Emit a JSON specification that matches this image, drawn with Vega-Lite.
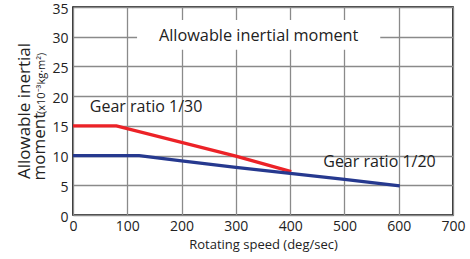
{
  "$schema": "https://vega.github.io/schema/vega-lite/v6.json",
  "width": 380,
  "height": 208,
  "autosize": {"type": "none"},
  "padding": {"left": 73, "top": 7, "right": 17, "bottom": 44},
  "background": "white",
  "config": {
    "font": "Open Sans",
    "view": {"stroke": "black", "strokeWidth": 1.6},
    "axis": {
      "grid": true,
      "gridColor": "#8a8a8a",
      "gridWidth": 1.3,
      "domain": false,
      "ticks": false,
      "labelColor": "#222",
      "labelFontSize": 14,
      "labelOverlap": false,
      "labelFlush": false,
      "titleFontWeight": "normal",
      "titleColor": "#222"
    },
    "axisX": {"labelPadding": 4, "titleFontSize": 13, "titlePadding": 5},
    "axisY": {"labelPadding": 5, "labelOffset": 2}
  },
  "datasets": {
    "curves": [
      {"speed": 0, "moment": 15, "gear": "1/30"},
      {"speed": 80, "moment": 15, "gear": "1/30"},
      {"speed": 300, "moment": 9.9, "gear": "1/30"},
      {"speed": 402, "moment": 7.3, "gear": "1/30"},
      {"speed": 0, "moment": 10, "gear": "1/20"},
      {"speed": 122, "moment": 10, "gear": "1/20"},
      {"speed": 200, "moment": 9.1, "gear": "1/20"},
      {"speed": 300, "moment": 8.0, "gear": "1/20"},
      {"speed": 400, "moment": 7.0, "gear": "1/20"},
      {"speed": 500, "moment": 6.0, "gear": "1/20"},
      {"speed": 602, "moment": 4.9, "gear": "1/20"}
    ],
    "one": [{}]
  },
  "layer": [
    {
      "data": {"name": "curves"},
      "mark": {"type": "line", "strokeWidth": 3.2},
      "encoding": {
        "x": {
          "field": "speed",
          "type": "quantitative",
          "scale": {"domain": [0, 700], "nice": false},
          "axis": {"values": [0, 100, 200, 300, 400, 500, 600, 700], "title": "Rotating speed (deg/sec)"}
        },
        "y": {
          "field": "moment",
          "type": "quantitative",
          "scale": {"domain": [0, 35], "nice": false},
          "axis": {"values": [0, 5, 10, 15, 20, 25, 30, 35], "title": null}
        },
        "color": {
          "field": "gear",
          "type": "nominal",
          "scale": {"domain": ["1/30", "1/20"], "range": ["#ec2227", "#26398f"]},
          "legend": null
        },
        "detail": {"field": "gear"}
      }
    },
    {
      "data": {"name": "one"},
      "mark": {"type": "rect", "color": "white"},
      "encoding": {
        "x": {"datum": 118, "type": "quantitative", "axis": {"values": [0, 100, 200, 300, 400, 500, 600, 700], "title": "Rotating speed (deg/sec)"}},
        "x2": {"datum": 566},
        "y": {"datum": 27.8, "type": "quantitative", "axis": {"values": [0, 5, 10, 15, 20, 25, 30, 35], "title": null}},
        "y2": {"datum": 32.8}
      }
    },
    {
      "data": {"name": "one"},
      "mark": {"type": "text", "fontSize": 16.3, "align": "center", "baseline": "alphabetic", "color": "#222"},
      "encoding": {
        "x": {"datum": 342, "type": "quantitative", "axis": {"values": [0, 100, 200, 300, 400, 500, 600, 700], "title": "Rotating speed (deg/sec)"}},
        "y": {"datum": 29.2, "type": "quantitative", "axis": {"values": [0, 5, 10, 15, 20, 25, 30, 35], "title": null}},
        "text": {"value": "Allowable inertial moment"}
      }
    },
    {
      "data": {"name": "one"},
      "mark": {"type": "text", "fontSize": 16, "align": "left", "baseline": "alphabetic", "color": "#222"},
      "encoding": {
        "x": {"datum": 31, "type": "quantitative", "axis": {"values": [0, 100, 200, 300, 400, 500, 600, 700], "title": "Rotating speed (deg/sec)"}},
        "y": {"datum": 17.4, "type": "quantitative", "axis": {"values": [0, 5, 10, 15, 20, 25, 30, 35], "title": null}},
        "text": {"value": "Gear ratio 1/30"}
      }
    },
    {
      "data": {"name": "one"},
      "mark": {"type": "text", "fontSize": 16, "align": "left", "baseline": "alphabetic", "color": "#222"},
      "encoding": {
        "x": {"datum": 461, "type": "quantitative", "axis": {"values": [0, 100, 200, 300, 400, 500, 600, 700], "title": "Rotating speed (deg/sec)"}},
        "y": {"datum": 8.1, "type": "quantitative", "axis": {"values": [0, 5, 10, 15, 20, 25, 30, 35], "title": null}},
        "text": {"value": "Gear ratio 1/20"}
      }
    },
    {
      "data": {"name": "one"},
      "mark": {"type": "text", "fontSize": 17, "align": "center", "baseline": "alphabetic", "angle": 270, "color": "#222"},
      "encoding": {
        "x": {"datum": -79, "type": "quantitative", "axis": {"values": [0, 100, 200, 300, 400, 500, 600, 700], "title": "Rotating speed (deg/sec)"}},
        "y": {"datum": 17.5, "type": "quantitative", "axis": {"values": [0, 5, 10, 15, 20, 25, 30, 35], "title": null}},
        "text": {"value": "Allowable inertial"}
      }
    },
    {
      "data": {"name": "one"},
      "mark": {"type": "text", "fontSize": 17, "align": "left", "baseline": "alphabetic", "angle": 270, "color": "#222"},
      "encoding": {
        "x": {"datum": -51, "type": "quantitative", "axis": {"values": [0, 100, 200, 300, 400, 500, 600, 700], "title": "Rotating speed (deg/sec)"}},
        "y": {"datum": 5.8, "type": "quantitative", "axis": {"values": [0, 5, 10, 15, 20, 25, 30, 35], "title": null}},
        "text": {"value": "moment"}
      }
    },
    {
      "data": {"name": "one"},
      "mark": {"type": "text", "fontSize": 11, "align": "left", "baseline": "alphabetic", "angle": 270, "color": "#222"},
      "encoding": {
        "x": {"datum": -51, "type": "quantitative", "axis": {"values": [0, 100, 200, 300, 400, 500, 600, 700], "title": "Rotating speed (deg/sec)"}},
        "y": {"datum": 17.0, "type": "quantitative", "axis": {"values": [0, 5, 10, 15, 20, 25, 30, 35], "title": null}},
        "text": {"value": "(x10⁻³kg·m²)"}
      }
    }
  ]
}
